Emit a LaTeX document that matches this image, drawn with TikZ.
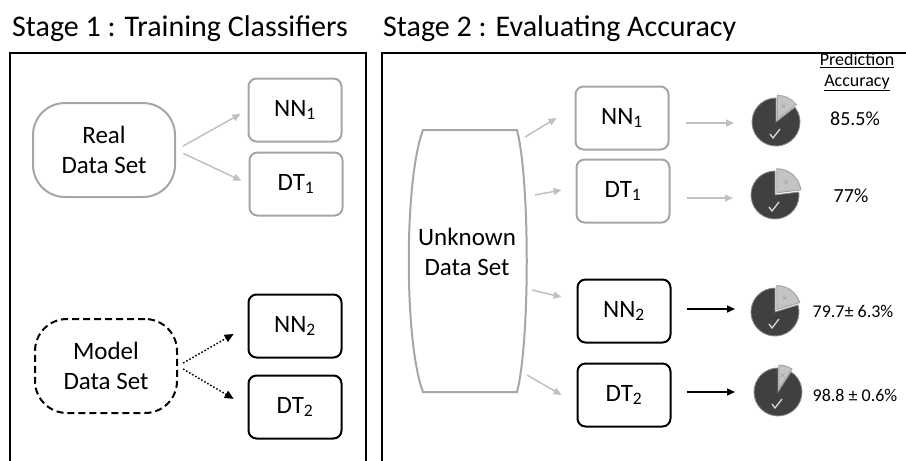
\documentclass[tikz,border=0pt]{standalone}
\usepackage{fontspec}
\setmainfont{Carlito}
\usetikzlibrary{positioning}
\usetikzlibrary{calc}
\usetikzlibrary{arrows.meta}

\definecolor{lightline}{HTML}{A6A6A6}
\definecolor{lightarrow}{HTML}{C0C0C0}
\definecolor{piedark}{HTML}{404040}
\definecolor{pielight}{HTML}{C4C4C4}

\tikzset{
  clsbox/.style={draw, rounded corners=8pt, line width=2pt, minimum width=93pt, minimum height=63pt, font=\fontsize{25}{25}\selectfont},
  oldbox/.style={clsbox, draw=lightline},
  newbox/.style={clsbox, draw=black},
  dataset/.style={rounded corners=32pt, line width=2pt, minimum width=142pt, minimum height=94pt, align=center, font=\fontsize{25}{30}\selectfont},
  grayarrow/.style={draw=lightarrow, line width=1.5pt, -{Triangle[length=8pt,width=7pt]}},
  blackarrow/.style={draw=black, line width=1.6pt, -{Triangle[length=8pt,width=7pt]}},
  dotarrow/.style={draw=black, dotted, line width=1.5pt, -{Triangle[length=9pt,width=8pt]}},
  acclabel/.style={font=\fontsize{18}{18}\selectfont},
}

% pie: #1 centre, #2 angle of the wrong part
\newcommand{\accpie}[2]{%
  \filldraw[fill=piedark, draw=piedark!60!white, line width=0.8pt] (#1) -- ++(-90+#2:24) arc[start angle=-90+#2, end angle=270, radius=24] -- cycle;
  \filldraw[fill=pielight, draw=lightline, line width=1pt] ($(#1)+(-90+#2/2:3)$) -- ++(-90:24) arc[start angle=-90, end angle=-90+#2, radius=24] -- cycle;
  \draw[white!85!black, line width=1.3pt] ($(#1)+(-6,12)$) -- ++(3,4) -- ++(7,-9);
  \node[text=gray, font=\fontsize{7}{7}\selectfont, inner sep=0pt] at ($(#1)+(-90+#2/2:17)$) {$\times$};
}

\begin{document}
\begin{tikzpicture}[x=1pt,y=-1pt]
  \clip (0,0) rectangle (906,461);

  % titles
  \node[anchor=west, inner sep=0pt, font=\fontsize{30}{30}\selectfont] (stage1) at (12,29) {Stage 1 : Training Classifiers};
  \node[anchor=west, inner sep=0pt, font=\fontsize{30}{30}\selectfont] (stage2) at (383,29) {Stage 2 : Evaluating Accuracy};

  % frames
  \draw[line width=1.5pt] (10,470) -- (10,53) -- (366,53) -- (366,470);
  \draw[line width=1.5pt] (382,470) -- (382,53) -- (915,53) -- (915,470);

  % stage 1
  \node[dataset, draw=lightline] (real) at (104,150) {Real\\Data Set};
  \node[oldbox] (nn1a) at (295,110) {NN\textsubscript{1}};
  \node[oldbox] (dt1a) at (296,184) {DT\textsubscript{1}};
  \draw[grayarrow, shorten <=8pt, shorten >=8pt] (real.east) -- (nn1a.west);
  \draw[grayarrow, shorten <=8pt, shorten >=8pt] (real.east) -- (dt1a.west);

  \node[dataset, draw=black, dashed, dash pattern=on 7pt off 4pt] (model) at (106,366) {Model\\Data Set};
  \node[newbox] (nn2a) at (295,326) {NN\textsubscript{2}};
  \node[newbox] (dt2a) at (295,407) {DT\textsubscript{2}};
  \draw[dotarrow, shorten <=6pt, shorten >=16pt] (model.east) -- (nn2a.west);
  \draw[dotarrow, shorten <=6pt, shorten >=16pt] (model.east) -- (dt2a.west);

  % stage 2
  \node[align=center, font=\fontsize{25}{30}\selectfont] (unknown) at (467,252) {Unknown\\Data Set};
  \draw[lightline, line width=2pt] ($(unknown)+(-44,-122)$) -- ($(unknown)+(50,-122)$)
    .. controls ($(unknown)+(63,-72)$) and ($(unknown)+(63,90)$) .. ($(unknown)+(50,140)$)
    -- ($(unknown)+(-44,140)$)
    .. controls ($(unknown)+(-63,90)$) and ($(unknown)+(-63,-72)$) .. cycle;

  \node[oldbox] (nn1b) at (622,118) {NN\textsubscript{1}};
  \node[oldbox] (dt1b) at (623,191) {DT\textsubscript{1}};
  \node[newbox] (nn2b) at (624,311) {NN\textsubscript{2}};
  \node[newbox] (dt2b) at (624,395) {DT\textsubscript{2}};

  \draw[grayarrow] ($(unknown)+(58,-115)$) -- ($(nn1b.west)+(-18,0)$);
  \draw[grayarrow] ($(unknown)+(68,-57)$) -- ($(dt1b.west)+(-14,-1)$);
  \draw[grayarrow] ($(unknown)+(65,38)$) -- ($(nn2b.west)+(-15,-14)$);
  \draw[grayarrow] ($(unknown)+(60,123)$) -- ($(dt2b.west)+(-15,0)$);

  % pies
  \coordinate (pie1) at (776,122);
  \coordinate (pie2) at (775,195);
  \coordinate (pie3) at (775,312);
  \coordinate (pie4) at (778,392);
  \accpie{pie1}{52}
  \accpie{pie2}{83}
  \accpie{pie3}{73}
  \accpie{pie4}{33}

  \draw[grayarrow] ($(nn1b.east)+(16,5)$) -- ($(pie1)+(-42,1)$);
  \draw[grayarrow] ($(dt1b.east)+(16,7)$) -- ($(pie2)+(-42,3)$);
  \draw[blackarrow] ($(nn2b.east)+(15,-2)$) -- ($(pie3)+(-40,-3)$);
  \draw[blackarrow] ($(dt2b.east)+(15,-3)$) -- ($(pie4)+(-43,0)$);

  % accuracy values
  \node[font=\fontsize{18}{21}\selectfont, align=center] (acchead) at (857,72) {\underline{Prediction}\\\underline{Accuracy}};
  \node[acclabel, font=\fontsize{20}{20}\selectfont] (acc1) at (855,119) {85.5\%};
  \node[acclabel, font=\fontsize{20}{20}\selectfont] (acc2) at (851,196) {77\%};
  \node[acclabel] (acc3) at (853,311) {79.7± 6.3\%};
  \node[acclabel] (acc4) at (855,395) {98.8 ± 0.6\%};
\end{tikzpicture}
\end{document}
